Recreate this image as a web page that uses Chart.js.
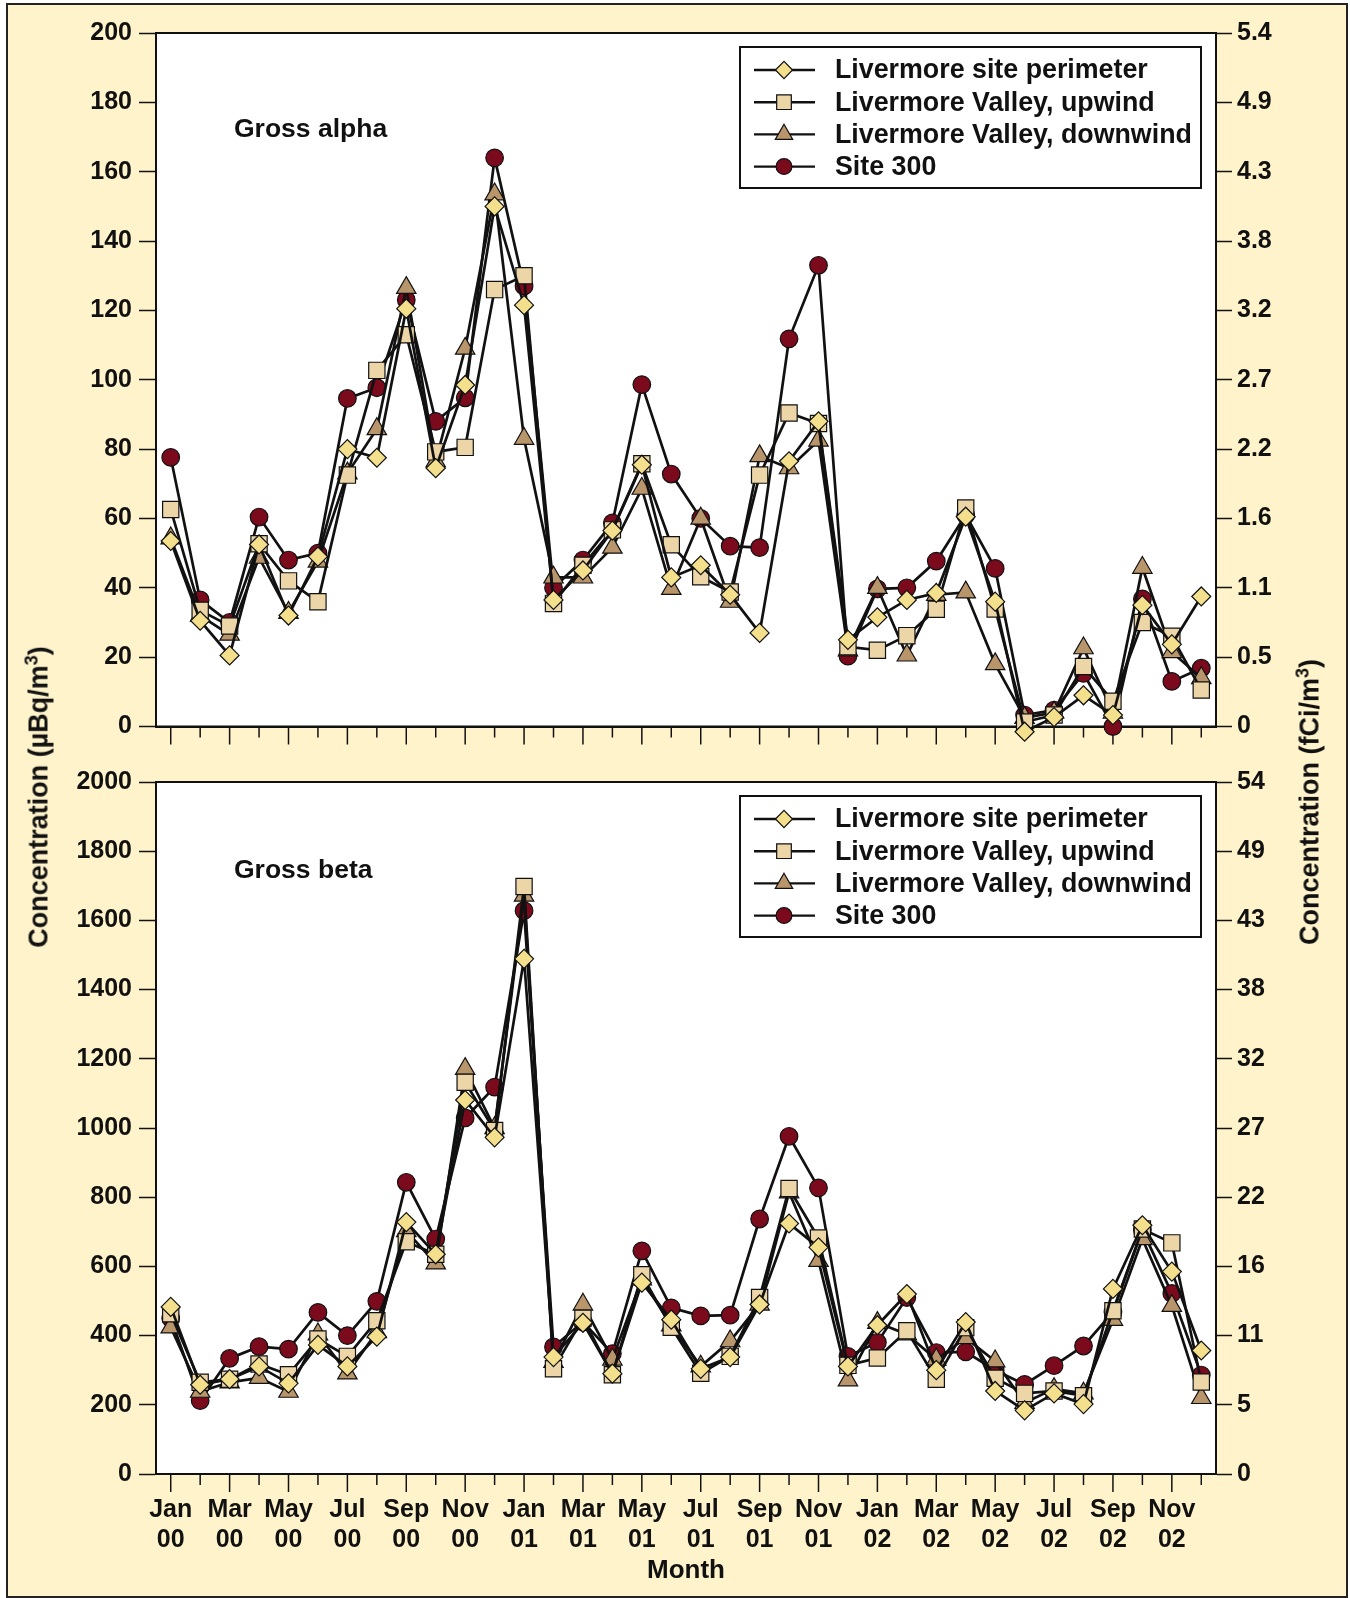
<!DOCTYPE html>
<html>
<head>
<meta charset="utf-8">
<script src="https://cdn.jsdelivr.net/npm/chart.js@4.4.1/dist/chart.umd.min.js"></script>
<style>
  body { margin: 0; background: #fff; }
  #page { position: relative; width: 1350px; height: 1598px; }
  #frame { position: absolute; left: 6px; top: 3px; width: 1342px; height: 1595px; box-sizing: border-box;
           border: 2px solid #222; background: #fff3cb; }
  canvas { position: absolute; left: 0; }
  .ytitle { position: absolute; transform: translate(-50%, -50%) rotate(-90deg); white-space: nowrap;
            font: bold 27px "Liberation Sans", Arial, sans-serif; color: #111; }
  .ytitle sup { font-size: 18px; }
</style>
</head>
<body>
<div id="page">
  <div id="frame"></div>
  <canvas id="alphaChart" width="1350" height="760" style="top:0"></canvas>
  <canvas id="betaChart" width="1350" height="838" style="top:760px"></canvas>
  <div class="ytitle" style="left:38px; top:797px">Concentration (µBq/m<sup>3</sup>)</div>
  <div class="ytitle" style="left:1309px; top:802px">Concentration (fCi/m<sup>3</sup>)</div>
</div>
<script>
// months Jan 00 .. Dec 02
const months = ['Jan 00','Feb 00','Mar 00','Apr 00','May 00','Jun 00','Jul 00','Aug 00','Sep 00','Oct 00','Nov 00','Dec 00',
  'Jan 01','Feb 01','Mar 01','Apr 01','May 01','Jun 01','Jul 01','Aug 01','Sep 01','Oct 01','Nov 01','Dec 01',
  'Jan 02','Feb 02','Mar 02','Apr 02','May 02','Jun 02','Jul 02','Aug 02','Sep 02','Oct 02','Nov 02','Dec 02'];

const seriesNames = ['Livermore site perimeter', 'Livermore Valley, upwind', 'Livermore Valley, downwind', 'Site 300'];

// gross alpha, µBq/m3
const alphaPerimeter = [53.5,30.5,20.5,52.5,32,49,80,77.5,120.5,74.5,98.5,150,121.5,36.5,45,56.5,75.5,43,46.5,38,27,76.5,88,25,31.5,36.5,38.5,60.5,36,-1.5,2.7,9,3.3,35,23.7,37.5];
const alphaUpwind = [62.6,33.5,29,52.7,42,36,72.5,102.7,113,79.2,80.5,126,130,35.5,46.5,56.7,75.8,52.4,43.2,38.8,72.5,90.4,87.4,23,22,26.2,33.8,63,33.9,1.3,3.3,17.3,7.3,30,26,10.5];
const alphaDownwind = [54.3,32,26.5,48.7,32.8,47.6,73,85.8,126.5,76.5,109,153.5,83,43,43,51.6,68.6,39.7,60,36,78,74.5,82.5,22,40,20.5,38,38.7,18,2.5,4,22.6,4,45.8,21.5,14];
const alphaSite300 = [77.6,36.5,30,60.4,48,50,94.6,97.7,123,88,94.8,164,127,40,48,58.7,98.6,72.8,60,52,51.6,111.8,133,20.3,39.7,40,47.7,61,45.6,3.3,4.7,15.3,0,36.8,13,16.8];

// gross beta, µBq/m3
const betaPerimeter = [483,258,274,311,262,373,311,397,728,635,1081,973,1489,338,437,290,553,446,304,338,490,724,655,311,430,520,300,439,240,184,233,202,535,719,585,357];
const betaUpwind = [463,265,274,318,287,390,340,443,671,635,1132,993,1698,304,450,287,576,424,291,340,510,825,682,314,335,414,274,423,277,233,240,226,472,708,668,266];
const betaDownwind = [424,238,265,278,238,404,291,410,702,609,1171,1000,1672,324,490,331,563,430,311,384,490,814,616,271,437,404,331,393,326,206,246,233,446,679,486,220];
const betaSite300 = [450,212,334,368,361,467,400,499,843,679,1029,1118,1628,367,440,348,645,480,457,459,737,976,827,340,380,510,351,353,300,259,313,370,468,705,522,286];

// right-hand axis labels (fCi/m3)
const alphaFci = ['0','0.5','1.1','1.6','2.2','2.7','3.2','3.8','4.3','4.9','5.4'];
const betaFci = ['0','5','11','16','22','27','32','38','43','49','54'];

const FONT = '"Liberation Sans", Arial, sans-serif';
const INK = '#111';
const styles = [
  { pointStyle: 'rectRot', radius: 9.5, fill: '#f3df8c' },
  { pointStyle: 'rect', radius: 11.5, fill: '#ecd5a6' },
  { pointStyle: 'triangle', radius: 11.2, fill: '#b8956a' },
  { pointStyle: 'circle', radius: 8.8, fill: '#7b0a1d' }
];

const panelDeco = {
  id: 'panelDeco',
  beforeDraw(chart) {
    const { ctx, chartArea: a } = chart;
    ctx.save();
    ctx.fillStyle = '#fff';
    ctx.fillRect(a.left, a.top, a.width, a.height);
    ctx.restore();
  },
  beforeDatasetsDraw(chart) {
    const { ctx, chartArea: a } = chart;
    const x = chart.scales.x;
    ctx.save();
    ctx.strokeStyle = INK;
    ctx.lineWidth = 1.5;
    months.forEach((m, i) => {
      const px = x.getPixelForValue(i);
      const len = i % 2 === 0 ? 18 : 11;
      ctx.beginPath();
      ctx.moveTo(px, a.bottom);
      ctx.lineTo(px, a.bottom + len);
      ctx.stroke();
    });
    ctx.lineWidth = 2;
    ctx.strokeRect(a.left, a.top, a.width, a.height);
    ctx.restore();
  },
  afterDraw(chart, args, opts) {
    const { ctx, chartArea: a } = chart;
    ctx.save();
    // panel title
    ctx.fillStyle = INK;
    ctx.font = 'bold 26.5px ' + FONT;
    ctx.textBaseline = 'middle';
    ctx.fillText(opts.title, a.left + 78, a.top + opts.titleY);

    // boxed legend
    const w = 461, h = 141;
    const left = a.right - 15 - w, top = a.top + 14;
    ctx.fillStyle = '#fff';
    ctx.fillRect(left, top, w, h);
    ctx.strokeStyle = INK;
    ctx.lineWidth = 2;
    ctx.strokeRect(left, top, w, h);
    chart.data.datasets.forEach((ds, i) => {
      const y = top + 23 + i * 32.2;
      ctx.strokeStyle = INK;
      ctx.lineWidth = 2.4;
      ctx.beginPath();
      ctx.moveTo(left + 14, y);
      ctx.lineTo(left + 75, y);
      ctx.stroke();
      ctx.fillStyle = ds.pointBackgroundColor;
      ctx.lineWidth = 1.2;
      Chart.helpers.drawPoint(ctx, { pointStyle: ds.pointStyle, radius: ds.pointRadius * 0.9, borderWidth: 1.2, rotation: 0 }, left + 44, y);
      ctx.fillStyle = INK;
      ctx.font = 'bold 26.8px ' + FONT;
      ctx.fillText(ds.label, left + 95, y + 1);
    });
    ctx.restore();
  }
};

function makePanel(canvasId, series, yMax, fciLabels, opts) {
  const datasets = series.map((data, i) => ({
    label: seriesNames[i],
    data: data,
    borderColor: INK,
    borderWidth: 2.7,
    pointStyle: styles[i].pointStyle,
    pointRadius: styles[i].radius,
    pointBackgroundColor: styles[i].fill,
    pointBorderColor: INK,
    pointBorderWidth: 1.2,
    tension: 0,
    clip: false
  }));
  const tickFont = { family: FONT, size: 25, weight: 'bold' };

  return new Chart(document.getElementById(canvasId), {
    type: 'line',
    data: { labels: months, datasets: datasets },
    options: {
      responsive: false,
      animation: false,
      devicePixelRatio: 1,
      layout: { padding: 0 },
      plugins: {
        legend: { display: false },
        tooltip: { enabled: false },
        panelDeco: { title: opts.title, titleY: opts.titleY }
      },
      scales: {
        x: {
          type: 'category',
          offset: true,
          grid: { display: false, drawTicks: false },
          border: { display: true, color: INK, width: 2 },
          ticks: {
            display: opts.showMonths,
            autoSkip: false,
            maxRotation: 0,
            padding: 21,
            color: INK,
            font: tickFont,
            callback: (v, i) => i % 2 === 0 ? months[i].split(' ') : ''
          },
          title: {
            display: opts.showMonths,
            text: 'Month',
            color: INK,
            font: { family: FONT, size: 26, weight: 'bold' },
            padding: { top: 0, bottom: 12 }
          },
          afterFit(s) { s.height = opts.bottomSpace; }
        },
        xTop: {
          type: 'category',
          position: 'top',
          labels: months,
          grid: { display: false, drawTicks: false },
          border: { display: false },
          ticks: { display: false },
          afterFit(s) { s.height = opts.topSpace; }
        },
        y: {
          position: 'left',
          min: 0,
          max: yMax,
          ticks: { stepSize: yMax / 10, padding: 7, color: INK, font: tickFont,
                   callback: (v) => String(v) },
          grid: { drawOnChartArea: false, tickLength: 17, tickColor: INK, tickWidth: 1.5 },
          border: { color: INK, width: 2 },
          afterFit(s) { s.width = 156; }
        },
        y2: {
          position: 'right',
          min: 0,
          max: yMax,
          ticks: { stepSize: yMax / 10, padding: 5, color: INK, font: tickFont,
                   callback: (v, i) => fciLabels[i] },
          grid: { drawOnChartArea: false, tickLength: 16, tickColor: INK, tickWidth: 1.5 },
          border: { color: INK, width: 2 },
          afterFit(s) { s.width = 134; }
        }
      }
    },
    plugins: [panelDeco]
  });
}

makePanel('alphaChart', [alphaPerimeter, alphaUpwind, alphaDownwind, alphaSite300], 200, alphaFci,
  { title: 'Gross alpha', titleY: 97, showMonths: false, topSpace: 33, bottomSpace: 33.5 });
makePanel('betaChart', [betaPerimeter, betaUpwind, betaDownwind, betaSite300], 2000, betaFci,
  { title: 'Gross beta', titleY: 89, showMonths: true, topSpace: 20.5, bottomSpace: 124 });
</script>
</body>
</html>
